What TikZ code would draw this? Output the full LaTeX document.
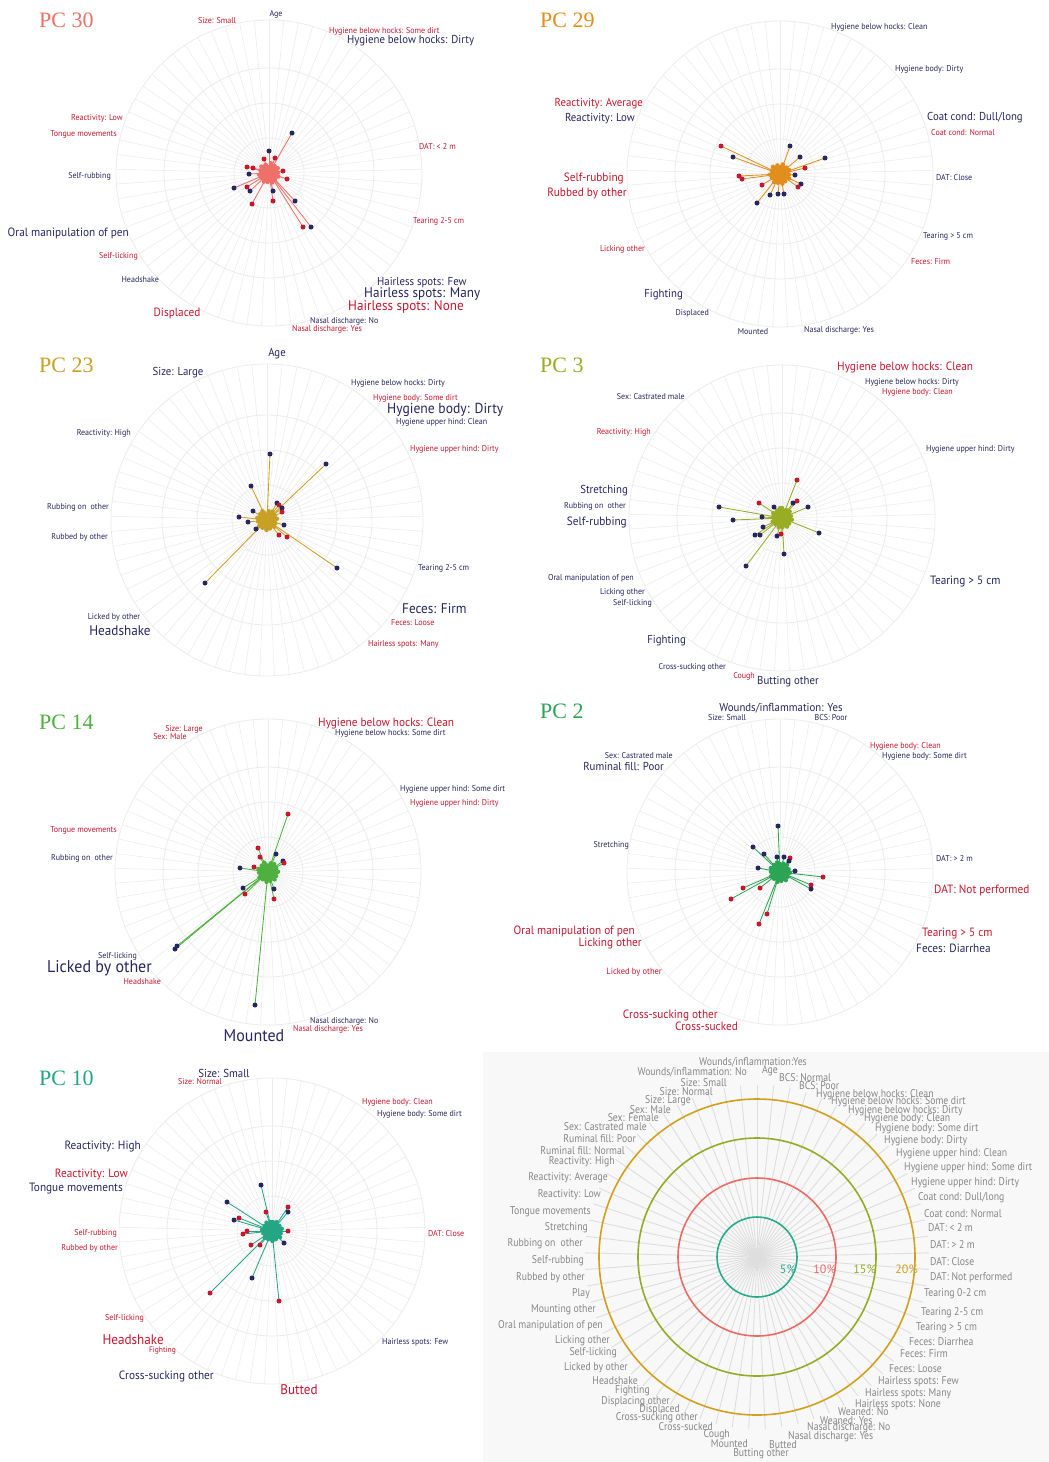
\documentclass[tikz,border=0pt]{standalone}
\usepackage{fontspec}
\setmainfont{PT Sans}
\newfontfamily\titlefont{Liberation Serif}
\definecolor{nv}{RGB}{38,38,96}
\definecolor{rd}{RGB}{200,22,46}
\definecolor{gridc}{RGB}{236,236,236}
\definecolor{lgrid}{RGB}{222,222,222}
\definecolor{gy}{RGB}{135,135,135}
\definecolor{c30}{RGB}{238,112,104}
\definecolor{c29}{RGB}{226,142,28}
\definecolor{c23}{RGB}{200,160,36}
\definecolor{c3}{RGB}{152,172,36}
\definecolor{c14}{RGB}{78,176,62}
\definecolor{c2}{RGB}{44,164,86}
\definecolor{c10}{RGB}{36,166,132}
\definecolor{lteal}{RGB}{40,170,140}
\definecolor{lsalm}{RGB}{236,106,100}
\definecolor{lolive}{RGB}{150,170,40}
\definecolor{lgold}{RGB}{210,160,30}
\definecolor{lbg}{RGB}{248,248,248}
\newcounter{labc}
\newcommand\lab[6]{\stepcounter{labc}\node[anchor=#1,inner sep=0pt,text=#5,font=\fontsize{#4}{#4}\selectfont] (lab\arabic{labc}) at (#2,#3) {\scalebox{0.94}[1]{#6}};}
\newcommand\glab[4]{\stepcounter{labc}\node[anchor=#1,inner sep=0pt,text=gy,font=\fontsize{11.2}{11.2}\selectfont] (lab\arabic{labc}) at (#2,#3) {\scalebox{0.87}[1]{#4}};}
\newcommand\ttl[4]{\node[anchor=west,inner sep=0pt,text=#3,font=\titlefont\fontsize{22}{22}\selectfont] (#4) at (#1,#2) {#4};}
\newcommand\radgrid[1]{%
  \foreach \i in {0,...,64}{\pgfmathsetmacro\myang{90-\i*5.538462}
    \draw[draw=gridc,line width=0.55pt] (\cx,\cy) -- ++({cos(\myang)*#1},{-sin(\myang)*#1});}
  \foreach \r in {35,70,105}{\draw[draw=gridc,line width=0.8pt] (\cx,\cy) circle[radius=\r];}
  \draw[draw=gridc,line width=0.8pt] (\cx,\cy) circle[radius=#1];}
\newcommand\pdots[1]{%
  \foreach \i in {0,...,64}{\pgfmathsetmacro\myang{90-\i*5.538462}\pgfmathsetmacro\myr{2+mod(\i*7+\seed,9)}
    \draw[draw=\pc,line width=0.7pt] (\cx,\cy) -- ++({cos(\myang)*\myr},{-sin(\myang)*\myr});}
  \foreach \cc/\xx/\yy in {#1}{\draw[draw=\pc,line width=0.85pt] (\cx,\cy) -- (\xx,\yy);}
  \foreach \i in {0,...,64}{\pgfmathsetmacro\myang{90-\i*5.538462}\pgfmathsetmacro\myr{2+mod(\i*7+\seed,9)}
    \fill[fill=\pc] (\cx,\cy) ++({cos(\myang)*\myr},{-sin(\myang)*\myr}) circle[radius=2.2];}
  \foreach \cc/\xx/\yy in {#1}{\fill[fill=\cc] (\xx,\yy) circle[radius=2.5];}}
\begin{document}
\begin{tikzpicture}[x=1pt,y=-1pt]
\fill[white] (0,0) rectangle (1049,1462);
\fill[lbg] (483,1052) rectangle (1049,1462);
\useasboundingbox (0,0) rectangle (1049,1462);

% ================= PC 30
\def\cx{269}\def\cy{173}\def\pc{c30}\def\seed{3}
\radgrid{153}
\pdots{nv/292/133,nv/269/151,rd/275/158,rd/264/159,rd/247/167,rd/253/168,nv/249/174,rd/283/171,rd/287/179,nv/234/188,rd/247/187,nv/250/191,nv/273/191,rd/273/201,nv/295/201,rd/252/204,rd/303/227,nv/311/227}
\ttl{39}{20}{c30}{PC 30}
\lab{center}{217}{21}{8.5}{rd}{Size: Small}
\lab{center}{276}{14}{8.5}{nv}{Age}
\lab{west}{329}{31}{8.5}{rd}{Hygiene below hocks: Some dirt}
\lab{west}{347}{41}{11.5}{nv}{Hygiene below hocks: Dirty}
\lab{east}{123}{118}{8.5}{rd}{Reactivity: Low}
\lab{east}{117}{134}{8.5}{rd}{Tongue movements}
\lab{west}{419}{147}{8.5}{rd}{DAT: < 2 m}
\lab{east}{111}{176}{8.5}{nv}{Self-rubbing}
\lab{west}{413}{221}{8.5}{rd}{Tearing 2-5 cm}
\lab{east}{129}{233}{12}{nv}{Oral manipulation of pen}
\lab{east}{138}{256}{8.5}{rd}{Self-licking}
\lab{east}{159}{280}{8.5}{nv}{Headshake}
\lab{west}{377}{283}{11.5}{nv}{Hairless spots: Few}
\lab{west}{364}{294}{14}{nv}{Hairless spots: Many}
\lab{west}{348}{307}{14}{rd}{Hairless spots: None}
\lab{center}{177}{313}{12}{rd}{Displaced}
\lab{west}{310}{321}{8.5}{nv}{Nasal discharge: No}
\lab{west}{292}{329}{8.5}{rd}{Nasal discharge: Yes}

% ================= PC 29
\def\cx{780}\def\cy{174}\def\pc{c29}\def\seed{5}
\radgrid{153}
\pdots{rd/721/146,nv/733/157,nv/790/146,nv/800/157,nv/825/158,rd/805/168,nv/795/175,rd/739/176,rd/742/179,rd/762/185,nv/801/184,rd/798/187,nv/770/195,nv/778/194,nv/784/194,nv/757/203}
\ttl{540}{20}{c29}{PC 29}
\lab{west}{831}{27}{8.5}{nv}{Hygiene below hocks: Clean}
\lab{west}{895}{69}{8.5}{nv}{Hygiene body: Dirty}
\lab{east}{643}{104}{11.5}{rd}{Reactivity: Average}
\lab{east}{635}{119}{11.5}{nv}{Reactivity: Low}
\lab{west}{927}{118}{11.5}{nv}{Coat cond: Dull/long}
\lab{west}{931}{133}{8.5}{rd}{Coat cond: Normal}
\lab{east}{624}{178}{12}{rd}{Self-rubbing}
\lab{east}{627}{193}{12}{rd}{Rubbed by other}
\lab{west}{936}{178}{8.5}{nv}{DAT: Close}
\lab{west}{923}{236}{8.5}{nv}{Tearing > 5 cm}
\lab{east}{645}{249}{8.5}{rd}{Licking other}
\lab{west}{911}{262}{8.5}{rd}{Feces: Firm}
\lab{east}{683}{295}{11.5}{nv}{Fighting}
\lab{east}{709}{313}{8.5}{nv}{Displaced}
\lab{center}{753}{332}{8.5}{nv}{Mounted}
\lab{west}{804}{330}{8.5}{nv}{Nasal discharge: Yes}

% ================= PC 23
\def\cx{267}\def\cy{520}\def\pc{c23}\def\seed{2}
\radgrid{156}
\pdots{nv/270/454,nv/326/464,nv/251/486,nv/277/503,rd/279/505,nv/282/508,rd/282/512,nv/253/511,nv/239/517,nv/248/522,nv/284/525,nv/256/529,rd/279/535,rd/287/537,nv/337/568,nv/205/583}
\ttl{39}{365}{c23}{PC 23}
\lab{center}{277}{354}{11.5}{nv}{Age}
\lab{center}{178}{373}{11.5}{nv}{Size: Large}
\lab{west}{351}{383}{8.5}{nv}{Hygiene below hocks: Dirty}
\lab{west}{373}{398}{8.5}{rd}{Hygiene body: Some dirt}
\lab{west}{387}{410}{14.5}{nv}{Hygiene body: Dirty}
\lab{west}{396}{422}{8.5}{nv}{Hygiene upper hind: Clean}
\lab{east}{131}{433}{8.5}{nv}{Reactivity: High}
\lab{west}{410}{449}{8.5}{rd}{Hygiene upper hind: Dirty}
\lab{east}{109}{507}{8.5}{nv}{Rubbing on\ \ other}
\lab{east}{108}{537}{8.5}{nv}{Rubbed by other}
\lab{west}{418}{568}{8.5}{nv}{Tearing 2-5 cm}
\lab{west}{402}{609}{14}{nv}{Feces: Firm}
\lab{center}{114}{617}{8.5}{nv}{Licked by other}
\lab{west}{391}{623}{8.5}{rd}{Feces: Loose}
\lab{center}{120}{631}{14}{nv}{Headshake}
\lab{west}{368}{644}{8.5}{rd}{Hairless spots: Many}

% ================= PC 3
\def\cx{782}\def\cy{518}\def\pc{c3}\def\seed{8}
\radgrid{153}
\pdots{rd/797/480,rd/797/501,nv/793/503,nv/808/507,rd/759/503,nv/774/507,nv/719/507,nv/762/517,nv/733/520,nv/763/527,nv/755/535,nv/760/535,rd/781/534,nv/777/536,nv/819/533,nv/784/554,nv/746/566}
\ttl{540}{365}{c3}{PC 3}
\lab{west}{837}{367}{12}{rd}{Hygiene below hocks: Clean}
\lab{west}{865}{382}{8.5}{nv}{Hygiene below hocks: Dirty}
\lab{west}{882}{392}{8.5}{rd}{Hygiene body: Clean}
\lab{east}{685}{397}{8.5}{nv}{Sex: Castrated male}
\lab{east}{651}{432}{8.5}{rd}{Reactivity: High}
\lab{west}{926}{449}{8.5}{nv}{Hygiene upper hind: Dirty}
\lab{east}{628}{491}{11.5}{nv}{Stretching}
\lab{east}{626}{506}{8.5}{nv}{Rubbing on\ \ other}
\lab{east}{627}{522}{12}{nv}{Self-rubbing}
\lab{west}{930}{582}{12}{nv}{Tearing > 5 cm}
\lab{east}{634}{578}{8.5}{nv}{Oral manipulation of pen}
\lab{east}{645}{592}{8.5}{nv}{Licking other}
\lab{east}{652}{603}{8.5}{nv}{Self-licking}
\lab{east}{686}{641}{11.5}{nv}{Fighting}
\lab{east}{726}{667}{8.5}{nv}{Cross-sucking other}
\lab{east}{755}{676}{8.5}{rd}{Cough}
\lab{west}{757}{682}{11.5}{nv}{Butting other}

% ================= PC 14
\def\cx{268}\def\cy{872}\def\pc{c14}\def\seed{4}
\radgrid{153}
\pdots{rd/288/814,rd/258/848,rd/260/857,nv/276/854,nv/283/861,rd/284/863,rd/254/867,nv/240/868,nv/243/888,rd/245/894,nv/274/889,rd/274/899,nv/177/946,nv/175/949,nv/255/1005}
\ttl{39}{722}{c14}{PC 14}
\lab{center}{184}{729}{8.5}{rd}{Size: Large}
\lab{center}{170}{737}{8.5}{rd}{Sex: Male}
\lab{west}{318}{723}{12}{rd}{Hygiene below hocks: Clean}
\lab{west}{335}{733}{8.5}{nv}{Hygiene below hocks: Some dirt}
\lab{west}{400}{789}{8.5}{nv}{Hygiene upper hind: Some dirt}
\lab{west}{410}{803}{8.5}{rd}{Hygiene upper hind: Dirty}
\lab{east}{117}{830}{8.5}{rd}{Tongue movements}
\lab{east}{113}{858}{8.5}{nv}{Rubbing on\ \ other}
\lab{east}{137}{956}{8.5}{nv}{Self-licking}
\lab{east}{152}{968}{17}{nv}{Licked by other}
\lab{east}{161}{982}{8.5}{rd}{Headshake}
\lab{west}{310}{1021}{8.5}{nv}{Nasal discharge: No}
\lab{west}{293}{1029}{8.5}{rd}{Nasal discharge: Yes}
\lab{center}{254}{1036}{17}{nv}{Mounted}

% ================= PC 2
\def\cx{780}\def\cy{872}\def\pc{c2}\def\seed{6}
\radgrid{153}
\pdots{nv/778/826,nv/753/847,nv/764/854,nv/777/857,nv/784/857,rd/790/858,nv/789/861,nv/758/868,nv/795/871,rd/823/877,rd/811/885,nv/811/889,rd/743/888,rd/760/888,rd/731/899,rd/767/914,rd/759/924}
\ttl{540}{711}{c2}{PC 2}
\lab{center}{781}{708}{11.5}{nv}{Wounds/inflammation: Yes}
\lab{center}{727}{718}{8.5}{nv}{Size: Small}
\lab{center}{831}{718}{8.5}{nv}{BCS: Poor}
\lab{west}{870}{746}{8.5}{rd}{Hygiene body: Clean}
\lab{west}{882}{756}{8.5}{nv}{Hygiene body: Some dirt}
\lab{east}{673}{756}{8.5}{nv}{Sex: Castrated male}
\lab{east}{664}{766}{11.5}{nv}{Ruminal fill: Poor}
\lab{east}{629}{845}{8.5}{nv}{Stretching}
\lab{west}{936}{859}{8.5}{nv}{DAT: > 2 m}
\lab{west}{934}{890}{12}{rd}{DAT: Not performed}
\lab{east}{635}{931}{12}{rd}{Oral manipulation of pen}
\lab{east}{642}{944}{12}{rd}{Licking other}
\lab{west}{922}{934}{12}{rd}{Tearing > 5 cm}
\lab{west}{916}{948}{12}{nv}{Feces: Diarrhea}
\lab{east}{662}{972}{9}{rd}{Licked by other}
\lab{east}{718}{1015}{12}{rd}{Cross-sucking other}
\lab{east}{738}{1026}{12}{rd}{Cross-sucked}

% ================= PC 10
\def\cx{272}\def\cy{1231}\def\pc{c10}\def\seed{9}
\radgrid{153}
\pdots{nv/261/1185,nv/227/1202,rd/288/1207,nv/288/1212,rd/266/1212,rd/239/1218,nv/234/1220,rd/247/1231,rd/243/1234,rd/288/1231,nv/284/1243,rd/251/1245,rd/260/1245,nv/252/1278,rd/210/1293,rd/279/1301}
\ttl{39}{1078}{c10}{PC 10}
\lab{center}{224}{1073}{11.5}{nv}{Size: Small}
\lab{center}{200}{1082}{8.5}{rd}{Size: Normal}
\lab{west}{362}{1102}{8.5}{rd}{Hygiene body: Clean}
\lab{west}{377}{1114}{8.5}{nv}{Hygiene body: Some dirt}
\lab{east}{141}{1147}{12}{nv}{Reactivity: High}
\lab{east}{128}{1174}{12}{rd}{Reactivity: Low}
\lab{east}{123}{1189}{12}{nv}{Tongue movements}
\lab{east}{117}{1233}{8.5}{rd}{Self-rubbing}
\lab{west}{428}{1234}{8.5}{rd}{DAT: Close}
\lab{east}{118}{1248}{8.5}{rd}{Rubbed by other}
\lab{east}{144}{1318}{8.5}{rd}{Self-licking}
\lab{east}{164}{1340}{14}{rd}{Headshake}
\lab{west}{382}{1342}{8.5}{nv}{Hairless spots: Few}
\lab{east}{176}{1350}{8}{rd}{Fighting}
\lab{east}{214}{1376}{12}{nv}{Cross-sucking other}
\lab{center}{299}{1390}{14}{rd}{Butted}

% ================= Legend
\def\cx{757}\def\cy{1257}
\foreach \i in {0,...,64}{\pgfmathsetmacro\myang{90-\i*5.538462}
  \draw[draw=lgrid,line width=0.9pt] (\cx,\cy) -- ++({cos(\myang)*172},{-sin(\myang)*172});}
\draw[lteal,line width=1.6pt] (\cx,\cy) circle[radius=40];
\draw[lsalm,line width=1.6pt] (\cx,\cy) circle[radius=79];
\draw[lolive,line width=1.6pt] (\cx,\cy) circle[radius=119];
\draw[lgold,line width=1.6pt] (\cx,\cy) circle[radius=158];
\node[anchor=east,inner sep=0pt,text=lteal,font=\fontsize{12}{12}\selectfont] (p5) at (796,1269) {5\%};
\node[anchor=east,inner sep=0pt,text=lsalm,font=\fontsize{12}{12}\selectfont] (p10) at (836,1269) {10\%};
\node[anchor=east,inner sep=0pt,text=lolive,font=\fontsize{12}{12}\selectfont] (p15) at (876,1269) {15\%};
\node[anchor=east,inner sep=0pt,text=lgold,font=\fontsize{12}{12}\selectfont] (p20) at (918,1269) {20\%};
\glab{center}{753}{1062}{Wounds/inflammation:Yes}
\glab{east}{747}{1072}{Wounds/inflammation: No}
\glab{center}{770}{1071}{Age}
\glab{west}{779}{1078}{BCS: Normal}
\glab{west}{799}{1086}{BCS: Poor}
\glab{east}{727}{1083}{Size: Small}
\glab{east}{713}{1092}{Size: Normal}
\glab{east}{691}{1101}{Size: Large}
\glab{east}{671}{1110}{Sex: Male}
\glab{east}{659}{1118}{Sex: Female}
\glab{east}{647}{1127}{Sex: Castrated male}
\glab{east}{636}{1139}{Ruminal fill: Poor}
\glab{east}{625}{1151}{Ruminal fill: Normal}
\glab{east}{615}{1162}{Reactivity: High}
\glab{east}{608}{1178}{Reactivity: Average}
\glab{east}{601}{1195}{Reactivity: Low}
\glab{east}{591}{1212}{Tongue movements}
\glab{east}{588}{1228}{Stretching}
\glab{east}{583}{1244}{Rubbing on\ \ other}
\glab{east}{584}{1261}{Self-rubbing}
\glab{east}{585}{1278}{Rubbed by other}
\glab{east}{590}{1294}{Play}
\glab{east}{596}{1310}{Mounting other}
\glab{east}{603}{1326}{Oral manipulation of pen}
\glab{east}{610}{1341}{Licking other}
\glab{east}{617}{1353}{Self-licking}
\glab{east}{628}{1368}{Licked by other}
\glab{east}{638}{1381}{Headshake}
\glab{east}{650}{1391}{Fighting}
\glab{east}{670}{1402}{Displacing other}
\glab{east}{680}{1410}{Displaced}
\glab{east}{698}{1418}{Cross-sucking other}
\glab{east}{713}{1427}{Cross-sucked}
\glab{east}{730}{1435}{Cough}
\glab{east}{748}{1444}{Mounted}
\glab{center}{761}{1454}{Butting other}
\glab{west}{769}{1445}{Butted}
\glab{west}{788}{1437}{Nasal discharge: Yes}
\glab{west}{807}{1428}{Nasal discharge: No}
\glab{west}{820}{1421}{Weaned: Yes}
\glab{west}{838}{1412}{Weaned: No}
\glab{west}{855}{1405}{Hairless spots: None}
\glab{west}{865}{1394}{Hairless spots: Many}
\glab{west}{878}{1382}{Hairless spots: Few}
\glab{west}{889}{1369}{Feces: Loose}
\glab{west}{900}{1354}{Feces: Firm}
\glab{west}{909}{1342}{Feces: Diarrhea}
\glab{west}{916}{1328}{Tearing > 5 cm}
\glab{west}{921}{1313}{Tearing 2-5 cm}
\glab{west}{924}{1294}{Tearing 0-2 cm}
\glab{west}{930}{1278}{DAT: Not performed}
\glab{west}{930}{1262}{DAT: Close}
\glab{west}{930}{1245}{DAT: > 2 m}
\glab{west}{928}{1228}{DAT: < 2 m}
\glab{west}{924}{1214}{Coat cond: Normal}
\glab{west}{918}{1198}{Coat cond: Dull/long}
\glab{west}{911}{1183}{Hygiene upper hind: Dirty}
\glab{west}{904}{1168}{Hygiene upper hind: Some dirt}
\glab{west}{896}{1154}{Hygiene upper hind: Clean}
\glab{west}{884}{1141}{Hygiene body: Dirty}
\glab{west}{875}{1129}{Hygiene body: Some dirt}
\glab{west}{864}{1119}{Hygiene body: Clean}
\glab{west}{848}{1111}{Hygiene below hocks: Dirty}
\glab{west}{831}{1102}{Hygiene below hocks: Some dirt}
\glab{west}{816}{1095}{Hygiene below hocks: Clean}
\end{tikzpicture}
\end{document}
